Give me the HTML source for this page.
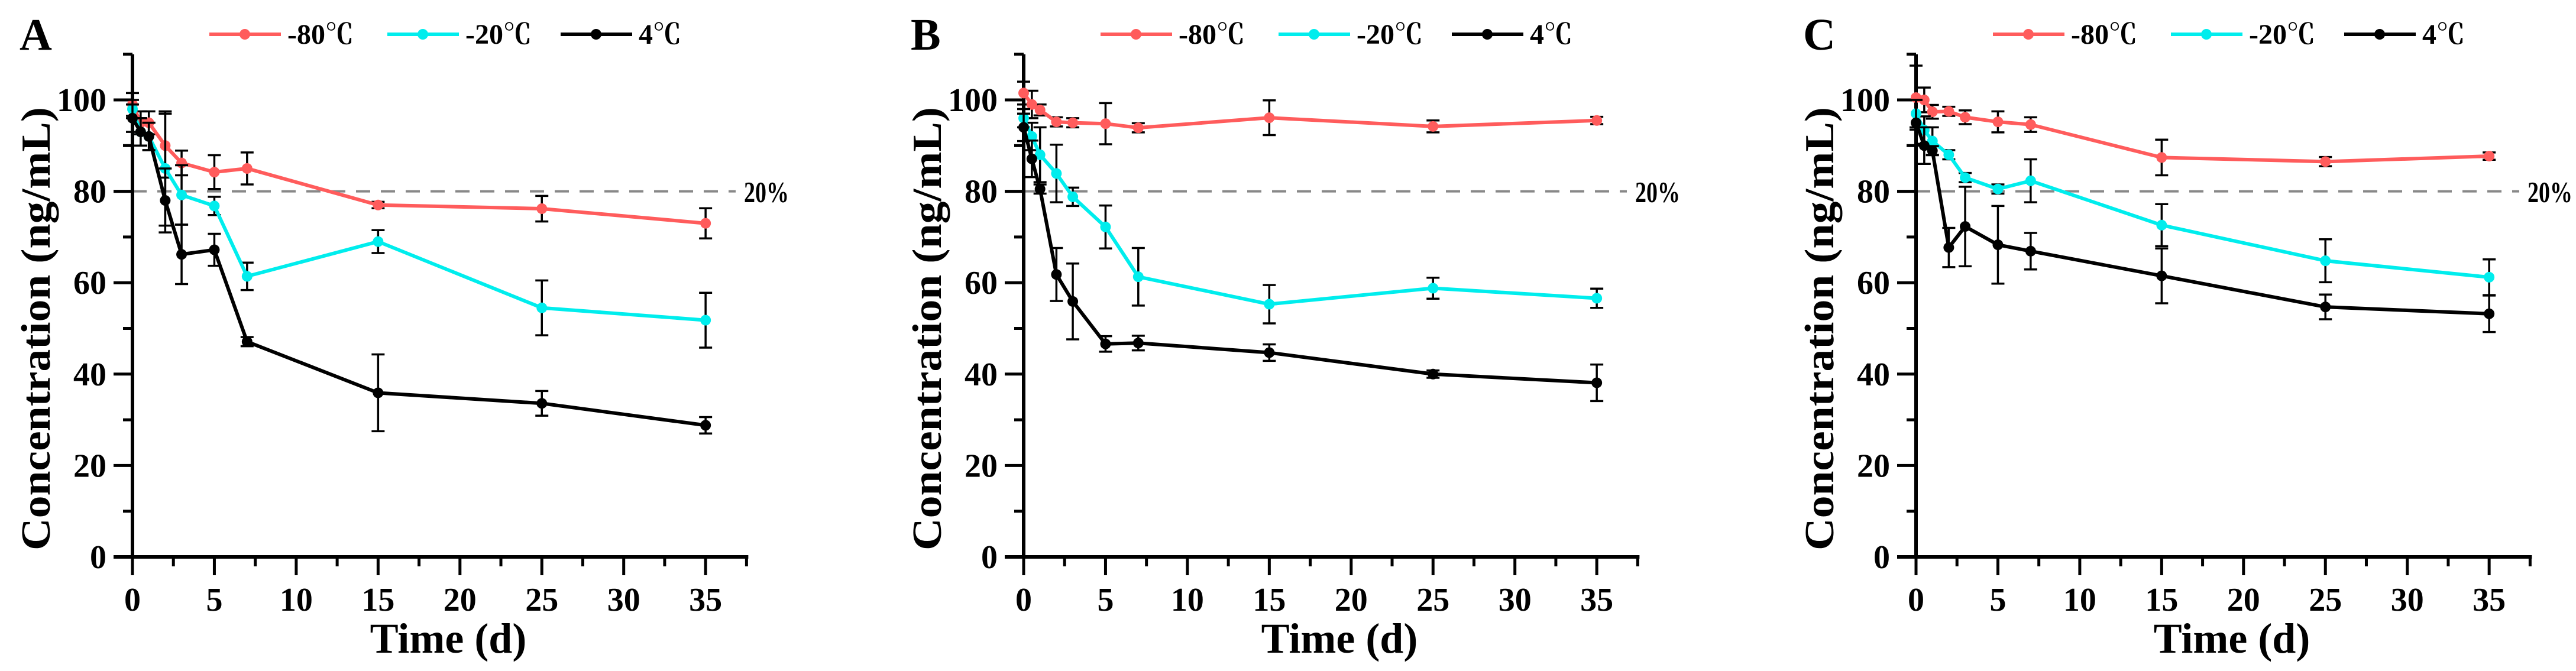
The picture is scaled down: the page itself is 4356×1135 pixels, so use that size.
<!DOCTYPE html>
<html><head><meta charset="utf-8"><style>
html,body{margin:0;padding:0;background:#fff;}
svg{display:block;}
text{font-family:"Liberation Serif","Noto Serif CJK SC",serif;font-weight:bold;fill:#000;}
</style></head><body>
<svg id="chart" width="4356" height="1135" viewBox="0 0 4356 1135" xmlns="http://www.w3.org/2000/svg"></svg>
<script>
const times = [0, 0.5, 1, 2, 3, 5, 7, 15, 25, 35];
const panelLabels = ['A', 'B', 'C'];
const seriesNames = ['-80℃', '-20℃', '4℃'];
const seriesColors = ['#ff5c5c', '#00eded', '#000000'];
const xTicks = [0, 5, 10, 15, 20, 25, 30, 35];
const yTicks = [0, 20, 40, 60, 80, 100];
const thresholdValue = 80;
const thresholdLabel = '20%';
// Panel A
const a80 = [99, 95, 95, 90, 86.2, 84.2, 85, 77, 76.2, 73];
const a80e = [2.5, 2.5, 2.5, 7, 2.7, 3.7, 3.5, 0.7, 2.8, 3.3];
const a20 = [98, 93, 92, 85, 79.2, 76.8, 61.4, 69, 54.5, 51.8];
const a20e = [2, 3, 3, 12.5, 6.5, 2, 3, 2.5, 6, 6];
const a4 = [96, 93, 92, 78, 66.2, 67.2, 47.1, 35.9, 33.6, 28.8];
const a4e = [3, 3, 3, 7, 6.5, 3.5, 1, 8.4, 2.7, 1.8];
// Panel B
const b80 = [101.5, 99, 97.8, 95.2, 95, 94.8, 93.9, 96.1, 94.2, 95.5];
const b80e = [2.5, 3, 1.2, 1, 1, 4.5, 1, 3.8, 1.3, 0.8];
const b20 = [96, 92, 88, 83.9, 78.8, 72.2, 61.3, 55.3, 58.8, 56.6];
const b20e = [2, 3, 6, 6.3, 2, 4.7, 6.3, 4.2, 2.3, 2.1];
const b4 = [94, 87.1, 80.5, 61.8, 55.9, 46.6, 46.8, 44.7, 40, 38.1];
const b4e = [3, 4, 1, 5.8, 8.3, 1.7, 1.6, 1.8, 0.8, 4];
// Panel C
const c80 = [100.5, 100, 97.4, 97.5, 96.2, 95.2, 94.6, 87.4, 86.5, 87.7];
const c80e = [7, 2.7, 1.5, 1, 1.5, 2.3, 1.6, 3.9, 1, 0.8];
const c20 = [97, 93.4, 91, 88, 83, 80.5, 82.3, 72.6, 64.8, 61.2];
const c20e = [3, 3, 3, 1, 1, 1, 4.7, 4.6, 4.7, 3.9];
const c4 = [95, 90, 88.9, 67.7, 72.3, 68.3, 66.9, 61.5, 54.7, 53.2];
const c4e = [5, 4, 1, 4.3, 8.7, 8.5, 4, 6, 2.7, 4];

const panelValues = [[a80, a20, a4], [b80, b20, b4], [c80, c20, c4]];
const panelErrors = [[a80e, a20e, a4e], [b80e, b20e, b4e], [c80e, c20e, c4e]];
const panelOrigins = [224, 1731, 3240];

const NS = 'http://www.w3.org/2000/svg';
const svg = document.getElementById('chart');
function mk(tag, attrs, parent) {
  const e = document.createElementNS(NS, tag);
  for (const k in attrs) e.setAttribute(k, attrs[k]);
  (parent || svg).appendChild(e);
  return e;
}
const Y0 = 942, YPX = 7.73, XPX = 27.69;
const FF = '"Liberation Serif", "Noto Serif CJK SC", serif';

panelOrigins.forEach((ox, p) => {
  const g = mk('g', {});
  
  
  const xs = v => ox + v * XPX;
  const ys = v => Y0 - v * YPX;

  const lab = mk('text', {x: ox - 191, y: 84, 'font-size': 76, 'font-family': FF}, g);
  lab.textContent = panelLabels[p];
  
  

  const th = mk('line', {x1: ox, x2: ox + 1020, y1: ys(thresholdValue), y2: ys(thresholdValue), stroke: '#888', 'stroke-width': 4, 'stroke-dasharray': '24 18'}, g);
  
  
  const tht = mk('text', {x: ox + 1034, y: ys(thresholdValue) + 18, 'font-size': 50, 'font-family': FF, textLength: 76, lengthAdjust: 'spacingAndGlyphs'}, g);
  tht.textContent = thresholdLabel;
  
  

  const ya = mk('line', {x1: ox, x2: ox, y1: ys(110), y2: Y0 + 3, stroke: '#000', 'stroke-width': 6}, g);
  
  
  const xa = mk('line', {x1: ox - 32, x2: xs(37.5) + 3, y1: Y0, y2: Y0, stroke: '#000', 'stroke-width': 6}, g);
  
  
  for (let v = 0; v <= 110; v += 10) {
    const major = v % 20 === 0;
    mk('line', {x1: ox - (major ? 32 : 16), x2: ox, y1: ys(v), y2: ys(v), stroke: '#000', 'stroke-width': 5}, g);
  }
  yTicks.forEach(v => {
    const t = mk('text', {x: ox - 44, y: ys(v) + 19, 'font-size': 56, 'text-anchor': 'end', 'font-family': FF}, g);
    t.textContent = v;
    
    
  });
  for (let v = 0; v <= 37.5; v += 2.5) {
    const major = v % 5 === 0;
    mk('line', {x1: xs(v), x2: xs(v), y1: Y0, y2: Y0 + (major ? 31 : 16), stroke: '#000', 'stroke-width': 5}, g);
  }
  xTicks.forEach(v => {
    const t = mk('text', {x: xs(v), y: 1033, 'font-size': 56, 'text-anchor': 'middle', 'font-family': FF}, g);
    t.textContent = v;
    
    
  });
  const xt = mk('text', {x: ox + 534, y: 1104, 'font-size': 72, 'text-anchor': 'middle', 'font-family': FF}, g);
  xt.textContent = 'Time (d)';
  
  
  const ytt = mk('text', {x: 0, y: 0, 'font-size': 70, 'text-anchor': 'middle', 'font-family': FF, transform: `translate(${ox - 140},556) rotate(-90)`, textLength: 750, lengthAdjust: 'spacingAndGlyphs'}, g);
  ytt.textContent = 'Concentration (ng/mL)';
  
  

  panelValues[p].forEach((vals, s) => {
    const col = seriesColors[s];
    const errs = panelErrors[p][s];
    const sg = mk('g', {}, g);
    
    
    vals.forEach((v, i) => {
      const x = xs(times[i]), e = errs[i];
      mk('line', {x1: x, x2: x, y1: ys(v + e), y2: ys(v - e), stroke: '#000', 'stroke-width': 3.5}, sg);
      mk('line', {x1: x - 11, x2: x + 11, y1: ys(v + e), y2: ys(v + e), stroke: '#000', 'stroke-width': 3.5}, sg);
      mk('line', {x1: x - 11, x2: x + 11, y1: ys(v - e), y2: ys(v - e), stroke: '#000', 'stroke-width': 3.5}, sg);
    });
    const pts = vals.map((v, i) => xs(times[i]) + ',' + ys(v)).join(' ');
    const pl = mk('polyline', {points: pts, fill: 'none', stroke: col, 'stroke-width': 6, 'stroke-linejoin': 'round'}, sg);
    
    
    vals.forEach((v, i) => {
      const c = mk('circle', {cx: xs(times[i]), cy: ys(v), r: 9, fill: col}, sg);
      
      
    });
  });

  const legOff = [130, 431, 724];
  seriesNames.forEach((n, s) => {
    const lg = mk('g', {}, g);
    
    
    const lx = ox + legOff[s];
    mk('line', {x1: lx, x2: lx + 121, y1: 58, y2: 58, stroke: seriesColors[s], 'stroke-width': 6}, lg);
    mk('circle', {cx: lx + 60, cy: 58, r: 9, fill: seriesColors[s]}, lg);
    const t = mk('text', {x: lx + 132, y: 74, 'font-size': 48, 'font-weight': 'normal', 'font-family': FF}, lg);
    t.textContent = n;
  });
});
</script>
</body></html>
